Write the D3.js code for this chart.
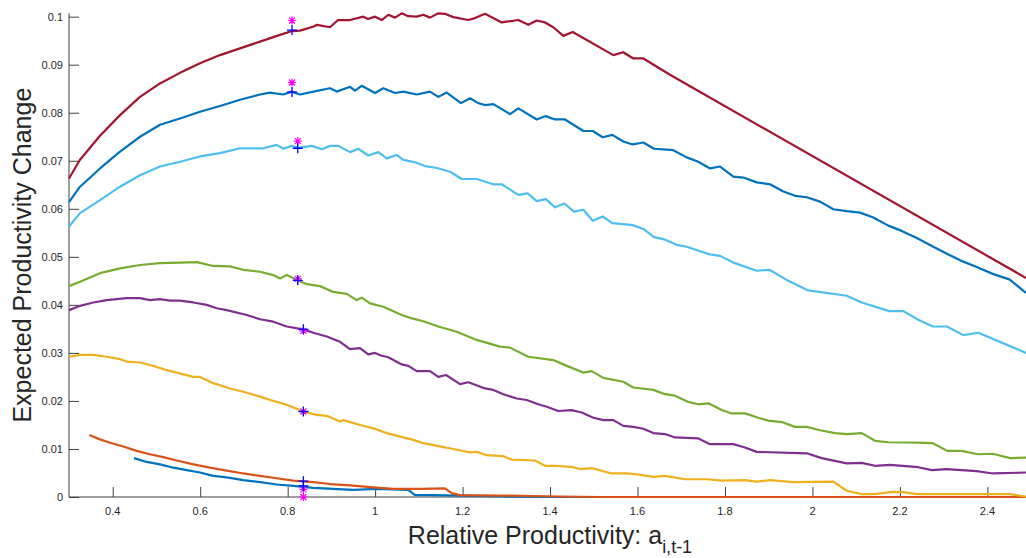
<!DOCTYPE html>
<html>
<head>
<meta charset="utf-8">
<script src="https://cdn.jsdelivr.net/npm/d3@7"></script>
<style>
  body { margin: 0; background: #fff; }
  text { font-family: "Liberation Sans", Arial, Helvetica, sans-serif; }
</style>
</head>
<body>
<div id="chart"></div>
<script>
// series, [x, y]
const lowBlue = [[0.4486,0.0081],[0.4777,0.0073],[0.5081,0.0068],[0.5385,0.0061],[0.5691,0.0056],[0.5996,0.0051],[0.63,0.0044],[0.6606,0.0041],[0.6986,0.0035],[0.7368,0.0031],[0.775,0.0026],[0.8129,0.0023],[0.8587,0.0019],[0.9044,0.0017],[0.9501,0.0015],[1.0036,0.0017],[1.0416,0.0016],[1.0759,0.0015],[1.0912,0.0004],[1.1331,0.0004],[1.1941,0.0003],[1.2856,0.0001],[1.377,0],[2.5,0]];

const orange = [[0.3464,0.0129],[0.3709,0.012],[0.3938,0.0113],[0.4242,0.0105],[0.4548,0.0096],[0.4852,0.0089],[0.5156,0.0083],[0.5463,0.0076],[0.5843,0.0068],[0.6224,0.0061],[0.6606,0.0055],[0.6986,0.0049],[0.7368,0.0044],[0.775,0.0039],[0.8129,0.0034],[0.8587,0.0031],[0.8968,0.0027],[0.9426,0.0024],[0.9959,0.002],[1.0416,0.0017],[1.1026,0.0017],[1.1598,0.0018],[1.1751,0.0008],[1.1941,0.0004],[1.2856,0.0003],[1.4228,0.0001],[1.514,0],[2.5,0]];

const yellow = [[0.3,0.0292],[0.3252,0.0296],[0.3556,0.0296],[0.3862,0.0292],[0.4166,0.0287],[0.4319,0.0282],[0.4624,0.028],[0.4928,0.0273],[0.5234,0.0264],[0.5463,0.0259],[0.5843,0.025],[0.5996,0.025],[0.63,0.0237],[0.6682,0.0226],[0.6986,0.0219],[0.7368,0.0209],[0.7672,0.02],[0.7978,0.0192],[0.8358,0.0178],[0.8664,0.0171],[0.8893,0.0169],[0.9197,0.0157],[0.9272,0.016],[0.9654,0.015],[0.9959,0.0143],[1.0265,0.0133],[1.0645,0.0124],[1.0873,0.0119],[1.1102,0.0112],[1.1445,0.0106],[1.1788,0.01],[1.217,0.0093],[1.2323,0.0094],[1.2552,0.0087],[1.2931,0.0085],[1.3123,0.0078],[1.3656,0.0076],[1.3885,0.0065],[1.4114,0.0065],[1.4532,0.0062],[1.4685,0.0058],[1.4953,0.006],[1.541,0.0049],[1.5753,0.0049],[1.5982,0.0047],[1.6362,0.0042],[1.6629,0.0044],[1.7086,0.0037],[1.7583,0.0037],[1.7925,0.0034],[1.8458,0.0035],[1.8726,0.0032],[1.903,0.0035],[1.9563,0.0031],[2.0478,0.0032],[2.0784,0.0013],[2.1127,0.0006],[2.1431,0.0006],[2.1774,0.001],[2.2078,0.001],[2.2385,0.0006],[2.4518,0.0006],[2.4884,0.0001]];

const purple = [[0.3,0.0389],[0.3252,0.0398],[0.3556,0.0405],[0.3862,0.041],[0.4319,0.0414],[0.4624,0.0414],[0.4852,0.041],[0.5081,0.0412],[0.531,0.0409],[0.5538,0.0409],[0.5843,0.0405],[0.6149,0.04],[0.6378,0.0393],[0.6606,0.0389],[0.7064,0.0379],[0.7368,0.037],[0.7672,0.0365],[0.7978,0.0355],[0.8358,0.0349],[0.8587,0.0342],[0.8893,0.0334],[0.9197,0.0323],[0.9426,0.0308],[0.9654,0.031],[0.9844,0.0297],[0.9997,0.03],[1.0151,0.0294],[1.0302,0.0291],[1.0608,0.0276],[1.0759,0.0273],[1.0951,0.0262],[1.1255,0.0262],[1.1445,0.025],[1.1621,0.0254],[1.1941,0.0235],[1.2131,0.0239],[1.2513,0.0226],[1.2703,0.0223],[1.2931,0.0214],[1.3238,0.0205],[1.3467,0.0202],[1.3732,0.0193],[1.3924,0.0188],[1.4189,0.0179],[1.4495,0.0181],[1.4724,0.0176],[1.4989,0.0165],[1.5218,0.016],[1.5447,0.016],[1.5675,0.0148],[1.5904,0.0146],[1.6133,0.0142],[1.6362,0.0133],[1.6629,0.0131],[1.6857,0.0124],[1.7391,0.0122],[1.7658,0.011],[1.8191,0.011],[1.8458,0.0103],[1.8726,0.0094],[1.9869,0.0091],[2.0212,0.0081],[2.0784,0.007],[2.1127,0.0071],[2.1431,0.0065],[2.1774,0.0067],[2.2421,0.0062],[2.2728,0.0056],[2.3071,0.0058],[2.3757,0.0054],[2.4123,0.0049],[2.4884,0.0051]];

const green = [[0.3,0.0439],[0.3252,0.0448],[0.3709,0.0466],[0.4166,0.0476],[0.4624,0.0483],[0.5081,0.0487],[0.5538,0.0488],[0.592,0.0489],[0.63,0.0481],[0.6682,0.048],[0.6986,0.0473],[0.7368,0.0469],[0.7672,0.0462],[0.7825,0.0455],[0.7978,0.0462],[0.8221,0.0452],[0.8436,0.0443],[0.874,0.0439],[0.9044,0.0427],[0.935,0.0423],[0.9579,0.041],[0.9693,0.0415],[0.9883,0.0403],[1.0187,0.0396],[1.0608,0.0379],[1.0798,0.0373],[1.1102,0.0366],[1.1445,0.0355],[1.1866,0.0344],[1.2323,0.0327],[1.2856,0.0313],[1.3085,0.0311],[1.3503,0.0292],[1.4075,0.0285],[1.4381,0.0273],[1.4761,0.0259],[1.4953,0.0262],[1.5218,0.0248],[1.5675,0.024],[1.5904,0.0228],[1.6362,0.0223],[1.6629,0.0214],[1.6857,0.0211],[1.7162,0.0198],[1.7391,0.0193],[1.7619,0.0195],[1.7925,0.0181],[1.8154,0.0174],[1.8458,0.0174],[1.8763,0.0165],[1.8991,0.0159],[1.9298,0.0156],[1.9602,0.0146],[1.9869,0.0146],[2.0174,0.0139],[2.0517,0.0133],[2.0784,0.0131],[2.1127,0.0133],[2.1431,0.0117],[2.1735,0.0114],[2.2385,0.0113],[2.2751,0.0112],[2.3085,0.0096],[2.3414,0.0096],[2.378,0.0089],[2.4123,0.009],[2.4519,0.0081],[2.4884,0.0082]];

const lightBlue = [[0.3,0.0563],[0.3252,0.0591],[0.3709,0.0618],[0.4166,0.0646],[0.4624,0.067],[0.5081,0.0688],[0.5538,0.0698],[0.5996,0.0709],[0.6453,0.0716],[0.691,0.0726],[0.7443,0.0726],[0.775,0.0733],[0.79,0.0725],[0.8093,0.0731],[0.8244,0.0727],[0.855,0.0731],[0.8779,0.0724],[0.8968,0.0731],[0.9158,0.0731],[0.9426,0.0718],[0.9616,0.0725],[0.9844,0.0711],[1.0073,0.0718],[1.0265,0.0705],[1.0494,0.0712],[1.0645,0.0702],[1.0912,0.0697],[1.114,0.0689],[1.1415,0.0685],[1.1713,0.0677],[1.198,0.0662],[1.2323,0.0662],[1.2703,0.0651],[1.2895,0.0651],[1.3275,0.0629],[1.3489,0.0632],[1.3695,0.0616],[1.3901,0.062],[1.4114,0.0603],[1.4327,0.0611],[1.4548,0.0594],[1.4761,0.0598],[1.4976,0.0575],[1.5204,0.0584],[1.5424,0.057],[1.589,0.0566],[1.6133,0.0558],[1.6377,0.0541],[1.659,0.0537],[1.6897,0.0525],[1.7125,0.0521],[1.7658,0.0505],[1.7887,0.0502],[1.8191,0.0488],[1.8726,0.0471],[1.9014,0.0473],[1.9412,0.0452],[1.9906,0.043],[2.0784,0.0419],[2.1127,0.0405],[2.1758,0.0387],[2.2078,0.0387],[2.2421,0.0369],[2.2751,0.0355],[2.3071,0.0355],[2.345,0.0337],[2.3793,0.0342],[2.4884,0.03]];

const darkRed = [[0.3,0.0663],[0.3252,0.0702],[0.3709,0.0752],[0.4166,0.0795],[0.4624,0.0833],[0.5081,0.0861],[0.5538,0.0883],[0.5996,0.0903],[0.6453,0.092],[0.691,0.0934],[0.7368,0.0948],[0.7825,0.0962],[0.8099,0.097],[0.8282,0.0971],[0.858,0.0979],[0.8671,0.0983],[0.8968,0.0978],[0.9151,0.0993],[0.9426,0.0993],[0.973,0.1],[0.9837,0.0995],[0.9997,0.1],[1.0151,0.0993],[1.0302,0.1004],[1.0455,0.0998],[1.0608,0.1007],[1.0759,0.1001],[1.0951,0.1],[1.1102,0.1004],[1.1255,0.0998],[1.1445,0.1007],[1.1598,0.1006],[1.1788,0.0999],[1.2131,0.0993],[1.2284,0.0997],[1.2513,0.1006],[1.2895,0.0988],[1.3275,0.0993],[1.3503,0.0983],[1.3695,0.0992],[1.3885,0.0988],[1.4075,0.0978],[1.4303,0.096],[1.4518,0.0968],[1.5447,0.092],[1.5675,0.0926],[1.5904,0.0913],[1.6133,0.0913],[1.6743,0.0879],[2.4884,0.0456]];

const topBlue = [[0.3,0.0614],[0.3252,0.0646],[0.3709,0.0684],[0.4166,0.0719],[0.4624,0.075],[0.5081,0.0775],[0.5538,0.0788],[0.5996,0.0802],[0.6453,0.0814],[0.691,0.0827],[0.7368,0.0838],[0.7596,0.0842],[0.7901,0.0838],[0.8093,0.0844],[0.8282,0.0838],[0.8587,0.0844],[0.8968,0.0851],[0.9122,0.0844],[0.9426,0.0854],[0.954,0.0846],[0.9693,0.0856],[0.9997,0.0841],[1.0187,0.0851],[1.0455,0.0841],[1.0645,0.0844],[1.0951,0.0838],[1.1255,0.0844],[1.1445,0.0833],[1.1637,0.0842],[1.1964,0.082],[1.217,0.083],[1.236,0.082],[1.2513,0.0816],[1.2703,0.0818],[1.3085,0.0797],[1.3275,0.0809],[1.3695,0.0786],[1.3901,0.0793],[1.4114,0.0786],[1.4342,0.0786],[1.4761,0.0762],[1.4976,0.0762],[1.5204,0.0749],[1.5424,0.0754],[1.5675,0.074],[1.589,0.0734],[1.6133,0.0738],[1.6377,0.0725],[1.6819,0.0722],[1.7125,0.0707],[1.7391,0.0698],[1.7658,0.0684],[1.7887,0.0688],[1.8191,0.0667],[1.842,0.0665],[1.8726,0.0655],[1.903,0.0651],[1.9335,0.0636],[1.9602,0.0627],[1.9869,0.0624],[2.0174,0.0615],[2.0478,0.0599],[2.0784,0.0595],[2.1088,0.0592],[2.1392,0.0582],[2.1735,0.0565],[2.2042,0.0554],[2.2385,0.0539],[2.2764,0.0521],[2.3107,0.0505],[2.345,0.049],[2.3757,0.0479],[2.4137,0.0464],[2.4503,0.0453],[2.4884,0.0425]];

const plusMarks = [[0.81,0.0972],[0.81,0.0843],[0.823,0.0726],[0.823,0.0451],[0.836,0.0349],[0.836,0.0178],[0.836,0.0033],[0.836,0.0023]];
const starMarks = [[0.81,0.0992],[0.81,0.0863],[0.823,0.0741],[0.823,0.0454],[0.836,0.0346],[0.836,0.0178],[0.836,0.0016],[0.836,0]];

const xTicks = [0.4, 0.6, 0.8, 1, 1.2, 1.4, 1.6, 1.8, 2, 2.2, 2.4];
const yTicks = [0, 0.01, 0.02, 0.03, 0.04, 0.05, 0.06, 0.07, 0.08, 0.09, 0.1];

const series = [
  { data: lowBlue, color: "#0072BD" },
  { data: orange, color: "#D95319" },
  { data: yellow, color: "#EDB120" },
  { data: purple, color: "#7E2F8E" },
  { data: green, color: "#77AC30" },
  { data: lightBlue, color: "#4DBEEE" },
  { data: darkRed, color: "#A2142F" },
  { data: topBlue, color: "#0072BD" }
];

const W = 1026, H = 558;
const axisColor = "#404040";

const svg = d3.select("#chart")
    .append("svg")
    .attr("width", W)
    .attr("height", H);

const x = d3.scaleLinear().domain([0.3, 2.5]).range([69, 1031.1]);
const y = d3.scaleLinear().domain([0, 0.1007]).range([497, 13.3]);

// axes, ticks pointing inward
const xAxis = svg.append("g")
    .attr("transform", `translate(0,${y(0)})`)
    .call(d3.axisTop(x).tickValues(xTicks).tickSize(10).tickFormat(d3.format("")));
xAxis.selectAll("text").remove();
xAxis.select(".domain").attr("d", `M${x(0.3)},0H${x(2.5)}`);

const yAxis = svg.append("g")
    .attr("transform", `translate(${x(0.3)},0)`)
    .call(d3.axisRight(y).tickValues(yTicks).tickSize(10));
yAxis.selectAll("text").remove();
yAxis.select(".domain").attr("d", `M0,${y(0)}V${y(0.1007)}`);

svg.selectAll(".domain, .tick line")
    .attr("stroke", axisColor)
    .attr("stroke-width", 1);

svg.append("g").selectAll("text")
    .data(xTicks)
    .enter()
    .append("text")
    .attr("x", d => x(d))
    .attr("y", 515)
    .attr("text-anchor", "middle")
    .style("font-size", "11px")
    .style("fill", "#262626")
    .text(d => d3.format("")(d));

svg.append("g").selectAll("text")
    .data(yTicks)
    .enter()
    .append("text")
    .attr("x", 63)
    .attr("y", d => y(d) + 4)
    .attr("text-anchor", "end")
    .style("font-size", "11px")
    .style("fill", "#262626")
    .text(d => d3.format("")(d));

const line = d3.line()
    .x(d => x(d[0]))
    .y(d => y(d[1]));

svg.append("g").selectAll("path")
    .data(series)
    .enter()
    .append("path")
    .attr("d", d => line(d.data))
    .attr("fill", "none")
    .attr("stroke", d => d.color)
    .attr("stroke-width", 2.2)
    .attr("stroke-linejoin", "round");

svg.append("g").selectAll("path")
    .data(starMarks)
    .enter()
    .append("path")
    .attr("transform", d => `translate(${x(d[0])},${y(d[1])})`)
    .attr("d", "M-4,0H4M0,-4V4M-3,-3L3,3M-3,3L3,-3")
    .attr("stroke", "#FF00FF")
    .attr("stroke-width", 1.2)
    .attr("fill", "none");

svg.append("g").selectAll("path")
    .data(plusMarks)
    .enter()
    .append("path")
    .attr("transform", d => `translate(${x(d[0])},${y(d[1])})`)
    .attr("d", "M-5,0H5M0,-5V5")
    .attr("stroke", "#0000FF")
    .attr("stroke-width", 1.3)
    .attr("fill", "none");

// axis labels
const xLabel = svg.append("text")
    .attr("x", 550)
    .attr("y", 544)
    .attr("text-anchor", "middle")
    .style("font-size", "25px")
    .style("fill", "#262626");
xLabel.append("tspan").text("Relative Productivity: a");
xLabel.append("tspan").attr("dy", 9).style("font-size", "18px").text("i,t-1");

svg.append("text")
    .attr("transform", `translate(31,${y(0.1007 / 2)}) rotate(-90)`)
    .attr("text-anchor", "middle")
    .style("font-size", "25px")
    .style("fill", "#262626")
    .text("Expected Productivity Change");
</script>
</body>
</html>
